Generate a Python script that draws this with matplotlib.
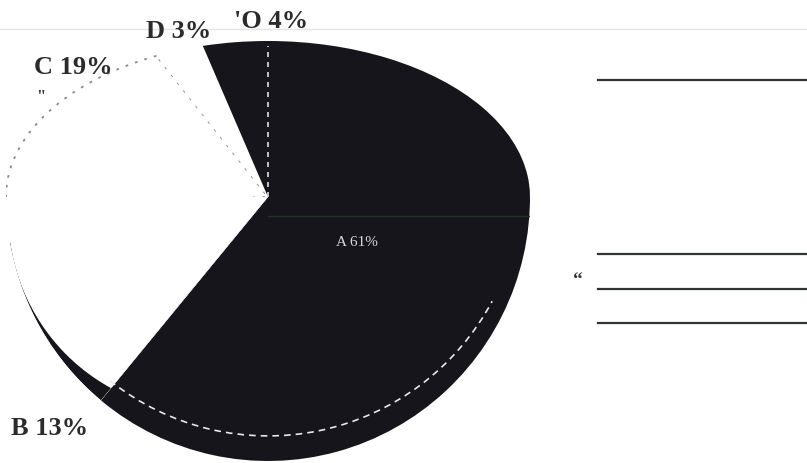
import numpy as np
import matplotlib
matplotlib.use("Agg")
import matplotlib.pyplot as plt
from matplotlib.patches import Wedge, Circle, Arc

# share of each segment, in drawing order (clockwise from 12 o'clock)
labels = ["A", "B", "C", "D", "'O"]
shares = [61, 13, 19, 3, 4]
fills = ["#15151b", "#ffffff", "#ffffff", "#ffffff", "#15151b"]

W, H = 807, 464
fig = plt.figure(figsize=(W / 100, H / 100), dpi=100)
fig.patch.set_facecolor("white")

# the scanned pie is squashed on top, so the upper and lower halves
# get their own boxes (pixels): centre x, centre y, x radius, top / bottom radius
cx, cy, rx, r_top, r_bot = 268, 198, 262, 156, 264


def box(y0, y1):
    return [(cx - rx) / W, 1 - y1 / H, 2 * rx / W, (y1 - y0) / H]


def draw_pie(ax, ylim):
    wedges, _ = ax.pie(shares, colors=fills, startangle=90, counterclock=False,
                       radius=1, center=(0, 0), frame=True,
                       wedgeprops=dict(linewidth=0, edgecolor="none"))
    for w in wedges:
        w.set_clip_on(True)
    ax.set_aspect("auto")
    ax.set_xlim(-1, 1)
    ax.set_ylim(*ylim)
    ax.axis("off")
    return wedges


ax_top = fig.add_axes(box(cy - r_top, cy))
ax_bot = fig.add_axes(box(cy, cy + r_bot))
top_w = draw_pie(ax_top, (0, 1))
bot_w = draw_pie(ax_bot, (-1, 0))

# dotted outline on segment C (upper half only)
wc = top_w[2]
wc.set_edgecolor("#8a8a8a")
wc.set_linewidth(1.3)
wc.set_linestyle((0, (1.5, 4)))

wa, wb = bot_w[0], bot_w[1]

# dark rim on the outer edge of B, tapering off upward
rim = Wedge((0, 0), 1, -170, wb.theta2, color="#15151b", lw=0, zorder=2)
ax_bot.add_patch(rim)
rim.set_clip_path(wb)
phi = np.radians(-165)
r_in = 0.75
cover = Circle(((1 - r_in) * np.cos(phi), (1 - r_in) * np.sin(phi)), r_in,
               color="white", lw=0, zorder=3)
ax_bot.add_patch(cover)
cover.set_clip_path(wb)

# white dashed line along the bottom of A
ax_bot.add_patch(Arc((0, 0.06), 1.94, 1.93, theta1=wa.theta1 + 1, theta2=-28,
                     color="#e8e8e8", lw=1.2, ls=(0, (4, 3)), zorder=4))

# white dashed A/E boundary in the upper half
t = np.radians(top_w[0].theta2)
ax_top.plot([0, np.cos(t)], [0, 0.97 * np.sin(t)], color="#e0e0e0", lw=1.2,
            ls=(0, (3, 3)), zorder=4)

# faint dark-green seam across A
ax_bot.plot([0, 1], [-0.072, -0.072], color="#1f3524", lw=1.0, zorder=4)

# segment labels, positions in pixels
serif = dict(family="Liberation Serif", fontweight="bold", color="#2b2b2b",
             fontsize=19, ha="center", va="center")
label_px = [(357, 243), (50, 429), (73, 67), (179, 31), (271, 21)]
for i, (lx, ly) in enumerate(label_px):
    text = f"{labels[i]} {shares[i]}%"
    if i == 0:
        fig.text(lx / W, 1 - ly / H, text, color="#d8d8d8", fontsize=11,
                 family="Liberation Serif", ha="center", va="center", zorder=5)
    else:
        fig.text(lx / W, 1 - ly / H, text, **serif)

# stray marks
fig.text(41 / W, 1 - 97 / H, '"', family="Liberation Serif", fontweight="bold",
         fontsize=12, color="#333333", ha="center", va="center")
fig.text(578 / W, 1 - 280 / H, "\u201c", family="Liberation Serif", fontweight="bold",
         fontsize=14, color="#333333", ha="center", va="center")

# faint rule across the top and the empty legend lines on the right
fig.add_artist(plt.Line2D([0, 1], [1 - 30 / H, 1 - 30 / H], color="#e4e4e4", lw=1.0))
for y in [81, 255, 290, 324]:
    fig.add_artist(plt.Line2D([598 / W, 1], [1 - y / H, 1 - y / H],
                              color="#2f3333", lw=1.6))

fig.savefig("out.png", dpi=100, facecolor="white")
